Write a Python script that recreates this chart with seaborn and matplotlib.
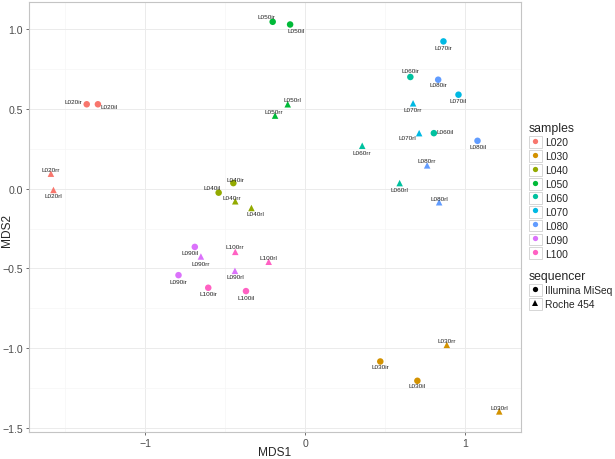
import matplotlib
matplotlib.use("Agg")
import matplotlib.pyplot as plt
from matplotlib.lines import Line2D
from matplotlib.patches import Rectangle
import pandas as pd
import seaborn as sns

# MDS coordinates
names = ["L020ir", "L020il", "L020rr", "L020rl",
         "L030ir", "L030il", "L030rr", "L030rl",
         "L040ir", "L040il", "L040rr", "L040rl",
         "L050ir", "L050il", "L050rr", "L050rl",
         "L060ir", "L060il", "L060rr", "L060rl",
         "L070ir", "L070il", "L070rr", "L070rl",
         "L080ir", "L080il", "L080rr", "L080rl",
         "L090ir", "L090il", "L090rr", "L090rl",
         "L100ir", "L100il", "L100rr", "L100rl"]
mds1 = [-1.366, -1.296, -1.590, -1.574,
        0.470, 0.702, 0.886, 1.214,
        -0.449, -0.541, -0.437, -0.336,
        -0.203, -0.094, -0.188, -0.109,
        0.658, 0.805, 0.357, 0.591,
        0.865, 0.959, 0.675, 0.713,
        0.832, 1.078, 0.763, 0.838,
        -0.792, -0.690, -0.652, -0.439,
        -0.606, -0.370, -0.437, -0.228]
mds2 = [0.529, 0.529, 0.094, -0.008,
        -1.083, -1.204, -0.979, -1.396,
        0.035, -0.025, -0.079, -0.121,
        1.046, 1.029, 0.458, 0.529,
        0.700, 0.348, 0.269, 0.035,
        0.923, 0.589, 0.535, 0.348,
        0.683, 0.300, 0.146, -0.085,
        -0.542, -0.365, -0.425, -0.515,
        -0.621, -0.642, -0.396, -0.458]
sample_levels = ["L020", "L030", "L040", "L050", "L060", "L070", "L080", "L090", "L100"]
seq_levels = ["Illumina MiSeq", "Roche 454"]

# label placement (pixels: dx, dy downwards, alignment)
label_pos = [(-4, -3, "right"), (3, 2, "left"), (0, -4, "center"), (0, 6, "center"),
             (0, 5, "center"), (0, 5, "center"), (0, -4, "center"), (0, -4, "center"),
             (2, -4, "center"), (-7, -5, "center"), (-3, -4, "center"), (4, 6, "center"),
             (-6, -5, "center"), (6, 6, "center"), (-1, -4, "center"), (5, -5, "center"),
             (0, -6, "center"), (3, -2, "left"), (0, 7, "center"), (0, 6, "center"),
             (0, 6, "center"), (0, 6, "center"), (0, 6, "center"), (-3, 4, "right"),
             (0, 5, "center"), (0, 6, "center"), (0, -5, "center"), (0, -4, "center"),
             (0, 6, "center"), (-5, 6, "center"), (0, 7, "center"), (0, 6, "center"),
             (0, 6, "center"), (0, 6, "center"), (0, -5, "center"), (0, -4, "center")]

df = pd.DataFrame({"MDS1": mds1, "MDS2": mds2, "name": names})
df["samples"] = df["name"].str[:4]
df["sequencer"] = ["Illumina MiSeq" if n[4] == "i" else "Roche 454" for n in names]

colors = ["#F8766D", "#D39200", "#93AA00", "#00BA38", "#00C19F",
          "#00B9E3", "#619CFF", "#DB72FB", "#FF61C3"]
palette = dict(zip(sample_levels, colors))
markers = {"Illumina MiSeq": "o", "Roche 454": "^"}

sns.set_style("white")
plt.rcParams["font.family"] = ["Liberation Sans", "DejaVu Sans"]

fig = plt.figure(figsize=(6.15, 4.6), dpi=100)
ax = fig.add_axes([29 / 615, 1 - 433 / 460, 492 / 615, 430 / 460])

sns.scatterplot(data=df, x="MDS1", y="MDS2", hue="samples", style="sequencer",
                hue_order=sample_levels, style_order=seq_levels,
                palette=palette, markers=markers, s=22, linewidth=0,
                legend=False, ax=ax, zorder=3)

for i, row in df.iterrows():
    dx, dy, ha = label_pos[i]
    ax.annotate(row["name"], (row["MDS1"], row["MDS2"]), xytext=(dx, -dy),
                textcoords="offset pixels", ha=ha, va="center",
                fontsize=4.6, color="#222222", zorder=4)

ax.set_xlim(-1.727, 1.35)
ax.set_ylim(-1.525, 1.17)
ax.set_xticks([-1, 0, 1])
ax.set_xticklabels(["\u22121", "0", "1"])
ax.set_yticks([1.0, 0.5, 0.0, -0.5, -1.0, -1.5])
ax.set_yticklabels(["1.0", "0.5", "0.0", "\u22120.5", "\u22121.0", "\u22121.5"])
ax.set_xticks([-1.5, -0.5, 0.5], minor=True)
ax.set_yticks([0.75, 0.25, -0.25, -0.75, -1.25], minor=True)
ax.grid(True, which="major", color="#ebebeb", linewidth=0.7)
ax.grid(True, which="minor", color="#f6f6f6", linewidth=0.5)
ax.set_axisbelow(True)
ax.tick_params(which="major", length=2.5, width=0.6, color="#555555",
               labelsize=7.6, labelcolor="#4d4d4d", pad=2, left=True, bottom=True)
ax.tick_params(which="minor", length=0)
for sp in ax.spines.values():
    sp.set_color("#c4c4c4")
    sp.set_linewidth(0.8)
ax.set_xlabel("MDS1", fontsize=8.6)
ax.xaxis.set_label_coords(0.5, -14 / 430)
ax.set_ylabel("MDS2", fontsize=8.6)
ax.yaxis.set_label_coords(-16 / 492, 0.47)

# legends in ggplot style: keys inside light boxes
def key(marker, color):
    box = Rectangle((0, 0), 1, 1, facecolor="white", edgecolor="#d0d0d0", linewidth=0.6)
    mk = Line2D([], [], marker=marker, color=color, linestyle="", markersize=3.8,
                markeredgewidth=0)
    return (box, mk)

leg_kw = dict(frameon=False, fontsize=7.4, title_fontsize=8.8, alignment="left",
              handlelength=1.25, handleheight=1.4, handletextpad=0.3,
              labelspacing=0.2, borderpad=0, borderaxespad=0, numpoints=1)

h1 = [key("o", c) for c in colors]
fig.legend(h1, sample_levels, title="samples", loc="upper left",
           bbox_to_anchor=(529 / 615, 1 - 123 / 460), **leg_kw)
h2 = [key("o", "black"), key("^", "black")]
fig.legend(h2, seq_levels, title="sequencer", loc="upper left",
           bbox_to_anchor=(529 / 615, 1 - 271 / 460), **leg_kw)

fig.savefig("out.png", dpi=100)
